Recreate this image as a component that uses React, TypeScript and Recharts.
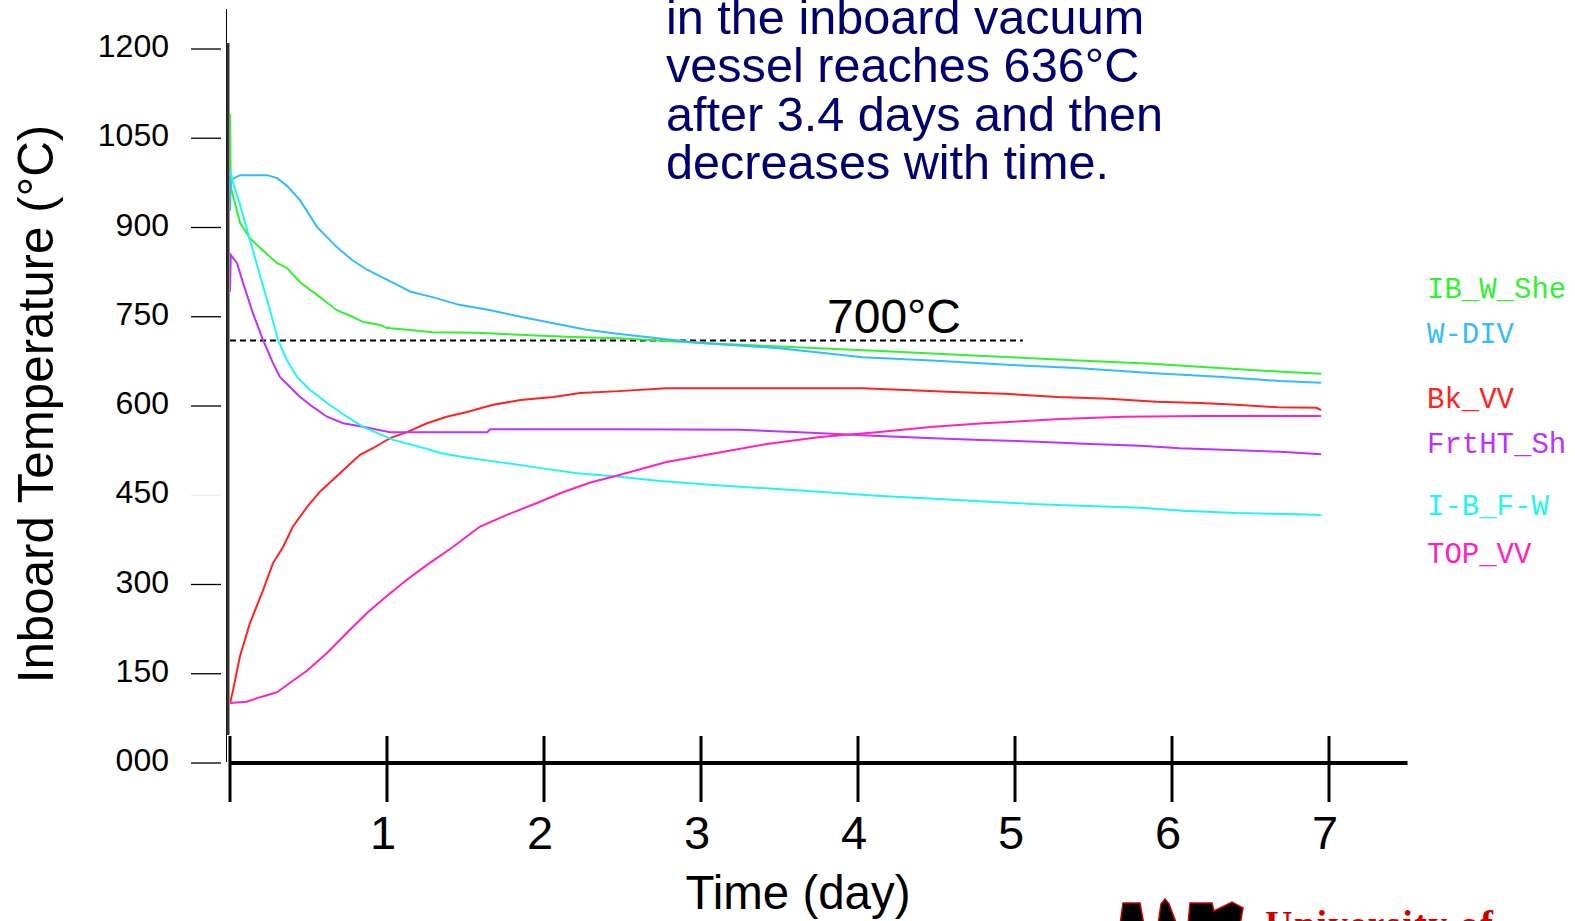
import React from 'react';
import { LineChart, Line, XAxis, YAxis, ReferenceLine } from 'recharts';

const W = 1575;
const H = 921;
const FONT = "'Liberation Sans', Arial, Helvetica, sans-serif";
const MONO = "'Liberation Mono', 'Courier New', monospace";

// time (day) and temperature (°C)
const ibwDays = [0, 0.005, 0.064, 0.127, 0.191, 0.3, 0.363, 0.446, 0.573, 0.68, 0.78, 0.85, 0.955, 1.0, 1.13, 1.29, 1.57, 1.91, 2.18, 2.48, 3.0, 3.5, 4.18, 4.8, 5.37, 5.87, 6.3, 6.73, 6.95];
const ibwTemp = [1091, 968, 908, 882, 866, 840, 832, 808, 783, 761, 750, 741, 736, 731, 728, 724, 723, 719, 716, 714, 706, 700, 692, 684, 677, 671, 664, 657, 654];

const divDays = [0, 0.005, 0.064, 0.236, 0.3, 0.363, 0.446, 0.554, 0.68, 0.78, 0.873, 1.04, 1.15, 1.29, 1.46, 1.66, 1.85, 2.06, 2.27, 2.48, 3.0, 3.5, 4.03, 4.5, 4.98, 5.39, 5.89, 6.3, 6.69, 6.95];
const divTemp = [928, 980, 988, 988, 983, 970, 946, 901, 867, 845, 829, 807, 792, 783, 770, 761, 750, 739, 728, 721, 706, 697, 682, 676, 669, 664, 655, 649, 642, 639];

const bkDays = [0, 0.02, 0.064, 0.127, 0.21, 0.274, 0.338, 0.4, 0.49, 0.573, 0.656, 0.745, 0.828, 0.91, 1.02, 1.127, 1.255, 1.38, 1.51, 1.675, 1.85, 2.06, 2.23, 2.48, 2.78, 4.03, 4.57, 4.97, 5.27, 5.6, 5.9, 6.18, 6.41, 6.67, 6.92, 6.95];
const bkTemp = [100, 123, 180, 235, 290, 336, 363, 397, 430, 456, 476, 498, 518, 529, 546, 556, 571, 582, 590, 602, 610, 615, 622, 625, 630, 630, 624, 620, 615, 612, 607, 605, 602, 598, 597, 593];

const frtDays = [0, 0.005, 0.045, 0.083, 0.146, 0.21, 0.274, 0.318, 0.382, 0.446, 0.53, 0.618, 0.72, 0.847, 1.02, 1.64, 1.656, 2.48, 3.25, 3.63, 4.1, 4.48, 4.78, 5.14, 5.48, 5.8, 6.05, 6.37, 6.69, 6.95];
const frtTemp = [792, 854, 840, 807, 756, 711, 672, 649, 632, 615, 598, 582, 571, 565, 556, 556, 561, 561, 560, 556, 550, 546, 543, 540, 536, 533, 529, 526, 523, 519];

const fwDays = [0, 0.02, 0.064, 0.127, 0.191, 0.255, 0.306, 0.363, 0.427, 0.51, 0.618, 0.745, 0.847, 1.04, 1.24, 1.34, 1.51, 1.76, 1.97, 2.21, 2.48, 2.74, 3.1, 3.68, 4.12, 4.63, 5.14, 5.46, 5.8, 6.07, 6.41, 6.8, 6.95];
const fwTemp = [997, 975, 938, 879, 820, 761, 711, 677, 649, 627, 605, 582, 565, 543, 529, 521, 513, 504, 496, 487, 481, 474, 467, 457, 449, 442, 435, 432, 429, 424, 420, 418, 417];

const topDays = [0, 0.108, 0.172, 0.236, 0.3, 0.363, 0.49, 0.618, 0.764, 0.873, 0.987, 1.127, 1.255, 1.42, 1.59, 1.764, 1.955, 2.12, 2.29, 2.48, 2.78, 3.1, 3.42, 3.76, 4.12, 4.48, 4.8, 5.29, 5.69, 6.2, 6.95];
const topTemp = [101, 103, 109, 114, 119, 131, 155, 185, 224, 252, 278, 308, 333, 363, 397, 417, 437, 455, 471, 484, 506, 521, 536, 548, 556, 565, 571, 578, 582, 583, 583];

const xTicks = [0, 1, 2, 3, 4, 5, 6, 7];
const xTickLabels = ['', '1', '2', '3', '4', '5', '6', '7'];
const yTicks = [0, 150, 300, 450, 600, 750, 900, 1050, 1200];
const yTickLabels = ['000', '150', '300', '450', '600', '750', '900', '1050', '1200'];

// dashed limit line as drawn in the figure
const limitTemp = 710;
const limitEndDay = 5.05;

const titleLines = [
  'in the inboard vacuum',
  'vessel reaches 636°C',
  'after 3.4 days and then',
  'decreases with time.',
];

const zip = (days: number[], temps: number[]) => days.map((t, i) => ({ t, v: temps[i] }));

const series = [
  { name: 'IB_W_She', color: '#33f033', data: zip(ibwDays, ibwTemp) },
  { name: 'W-DIV', color: '#33bbff', data: zip(divDays, divTemp) },
  { name: 'Bk_VV', color: '#ff2222', data: zip(bkDays, bkTemp) },
  { name: 'FrtHT_Sh', color: '#bb33ff', data: zip(frtDays, frtTemp) },
  { name: 'I-B_F-W', color: '#22f5f5', data: zip(fwDays, fwTemp) },
  { name: 'TOP_VV', color: '#ff22bb', data: zip(topDays, topTemp) },
];

const legendBaselines = [298, 343, 408, 453, 515, 563];

const XTick = (props: any) => {
  const { x, y, payload } = props;
  const label = xTickLabels[xTicks.indexOf(payload.value)];
  return (
    <g>
      <line x1={x} x2={x} y1={y - 27} y2={y + 39} stroke="#000" strokeWidth={3} />
      {label ? (
        <text x={x - 4} y={y + 86} textAnchor="middle" fontSize={47} fontFamily={FONT} fill="#000">
          {label}
        </text>
      ) : null}
    </g>
  );
};

const YTick = (props: any) => {
  const { x, y, payload } = props;
  const label = yTickLabels[yTicks.indexOf(payload.value)];
  return (
    <g>
      <line x1={x - 39} x2={x - 9} y1={y} y2={y} stroke={payload.value === 450 ? '#ececec' : '#000'} strokeWidth={1.3} />
      <text x={x - 61} y={y} dy={8} textAnchor="end" fontSize={32} fontFamily={FONT} fill="#000">
        {label}
      </text>
    </g>
  );
};

const LimitLabel = (p: any) => {
  const vb = p && p.viewBox ? p.viewBox : { x: 230, y: 340 };
  return (
    <text x={vb.x + 597} y={vb.y - 8} fontSize={48} fontFamily={FONT} fill="#000">
      700°C
    </text>
  );
};

const App: React.FC = () => {
  return (
    <div style={{ position: 'absolute', left: 0, top: 0, width: W, height: H, background: '#fff', overflow: 'hidden' }}>
      {/* axes get 1px of room: a zero-sized axis is not drawn */}
      <LineChart width={W} height={H} margin={{ top: 49, right: 167.5, bottom: 157, left: 229 }}>
        <XAxis
          type="number"
          dataKey="t"
          domain={[0, 7.5]}
          ticks={xTicks}
          allowDataOverflow
          height={1}
          tickSize={0}
          tickMargin={0}
          tickLine={false}
          axisLine={{ stroke: '#000', strokeWidth: 4 }}
          tick={<XTick />}
          interval={0}
        />
        <YAxis
          type="number"
          domain={[0, 1200]}
          ticks={yTicks}
          allowDataOverflow
          width={1}
          tickSize={0}
          tickMargin={0}
          tickLine={false}
          axisLine={false}
          tick={<YTick />}
          interval={0}
        />

        {/* the figure's vertical axis: a thin line and a heavier one beside it */}
        <ReferenceLine
          segment={[{ x: -0.0223, y: 1267 }, { x: -0.0223, y: 1.7 }]}
          stroke="#000"
          strokeWidth={1}
          ifOverflow="visible"
        />
        <ReferenceLine
          segment={[{ x: -0.0127, y: 1210 }, { x: -0.0127, y: 47 }]}
          stroke="#333"
          strokeWidth={3}
          ifOverflow="visible"
        />

        <ReferenceLine
          segment={[{ x: 0, y: limitTemp }, { x: limitEndDay, y: limitTemp }]}
          stroke="#000"
          strokeWidth={2}
          strokeDasharray="6 4"
          ifOverflow="visible"
          label={(p: any) => <LimitLabel {...p} />}
        />

        {series.map((s) => (
          <Line
            key={s.name}
            data={s.data}
            dataKey="v"
            name={s.name}
            type="linear"
            stroke={s.color}
            strokeWidth={2}
            dot={false}
            activeDot={false}
            isAnimationActive={false}
          />
        ))}
      </LineChart>

      <svg width={W} height={H} style={{ position: 'absolute', left: 0, top: 0, pointerEvents: 'none' }}>
        {titleLines.map((s, i) => (
          <text key={i} x={666} y={33.5 + i * 48.5} fontSize={48.6} fontFamily={FONT} fill="#000070">
            {s}
          </text>
        ))}

        <text transform="translate(53,404) rotate(-90)" textAnchor="middle" fontSize={49.3} fontFamily={FONT} fill="#000">
          Inboard Temperature (°C)
        </text>
        <text x={798} y={909} textAnchor="middle" fontSize={47.5} fontFamily={FONT} fill="#000">
          Time (day)
        </text>

        {series.map((s, i) => (
          <text key={s.name} x={1427} y={legendBaselines[i]} fontSize={29} fontFamily={MONO} fill={s.color}>
            {s.name}
          </text>
        ))}

        {/* logo, cut off at the bottom edge */}
        <g fill="#000" stroke="#d00000" strokeWidth={1.5}>
          <path d="M1120 925 L1123 903 L1140 903 L1144 925 Z" />
          <path d="M1158 925 L1161 904 L1165 899 L1169 904 L1177 925 Z" />
          <path d="M1188 925 L1190 903 L1212 903 L1214 911 L1232 902 L1243 908 L1240 925 Z" />
        </g>
        <text x={1265} y={937} fontSize={38} fontWeight="bold" letterSpacing={1.5} fontFamily="'Liberation Serif', 'Times New Roman', serif" fill="#d00000">
          University of
        </text>
      </svg>
    </div>
  );
};

export default App;
